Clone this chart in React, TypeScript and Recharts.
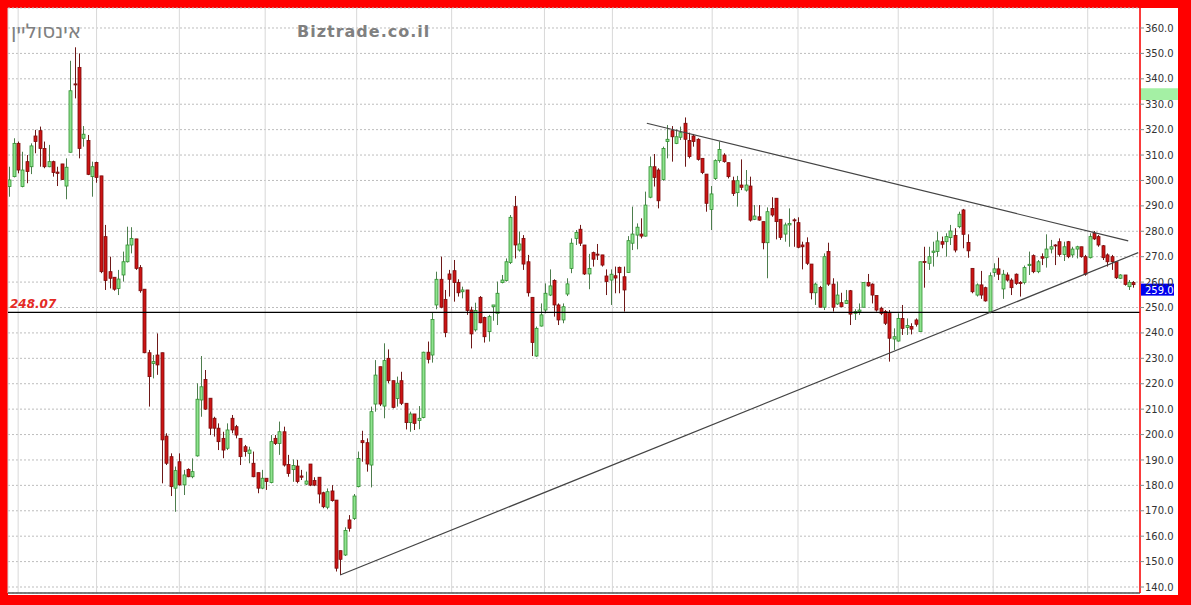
import React from 'react';
import { ComposedChart, Bar, XAxis, YAxis, CartesianGrid, ReferenceLine, ReferenceArea } from 'recharts';

const opens = [
  297.6, 301.5, 314.6, 297.6, 307.4, 305.4, 317.5, 319.6, 312.6, 305.4,
  307.4, 303.3, 306.5, 297.8, 311.1, 338.0, 344.5, 316.6, 315.7, 301.5,
  307.1, 301.8, 277.9, 264.1, 261.9, 257.5, 262.8, 268.0, 274.6, 277.0,
  265.7, 257.2, 232.2, 228.0, 231.3, 232.2, 199.4, 191.3, 178.9, 189.3,
  180.2, 186.3, 183.4, 191.6, 213.6, 221.7, 214.3, 206.4, 202.5, 198.5,
  194.6, 206.4, 203.1, 198.5, 195.2, 192.6, 188.7, 185.0, 178.9, 182.8,
  181.1, 198.5, 196.5, 201.1, 188.2, 186.2, 187.6, 183.7, 180.5, 188.4,
  181.9, 183.2, 177.1, 171.4, 177.8, 174.2, 154.3, 152.6, 166.4, 167.0,
  179.5, 197.6, 196.8, 188.0, 212.0, 226.7, 211.2, 230.0, 221.2, 214.2,
  221.2, 212.3, 204.7, 208.1, 205.5, 206.7, 232.4, 231.3, 251.0, 261.1,
  253.2, 263.2, 264.5, 259.8, 256.2, 256.9, 249.0, 241.2, 254.0, 246.1,
  240.5, 250.3, 247.7, 259.8, 260.6, 267.7, 289.7, 272.6, 277.2, 268.0,
  254.0, 230.9, 242.7, 249.0, 254.9, 260.6, 251.0, 245.1, 255.3, 265.4,
  277.2, 280.8, 274.6, 263.2, 271.6, 271.0, 270.7, 262.4, 260.8, 262.5,
  265.8, 262.1, 263.8, 275.3, 278.5, 278.9, 278.1, 293.4, 305.4, 304.1,
  300.4, 315.3, 319.6, 314.6, 317.0, 322.5, 315.7, 317.5, 316.2, 308.7,
  302.5, 288.6, 300.8, 307.8, 310.0, 307.0, 299.9, 295.2, 298.2, 296.2,
  297.8, 284.7, 285.7, 283.8, 275.5, 289.0, 293.0, 284.7, 278.9, 282.5,
  284.5, 283.4, 274.6, 275.5, 267.1, 255.8, 257.9, 250.1, 272.0, 259.2,
  251.4, 251.9, 251.6, 256.6, 247.7, 248.4, 250.1, 259.8, 259.2, 254.7,
  249.7, 248.4, 248.1, 237.6, 236.8, 245.7, 242.1, 242.5, 245.1, 240.5,
  268.1, 267.4, 271.7, 272.0, 275.9, 275.9, 277.5, 278.3, 281.8, 288.4,
  275.6, 265.4, 254.9, 258.9, 257.8, 248.1, 263.8, 265.2, 257.3, 262.8,
  260.8, 263.1, 259.8, 259.9, 266.5, 270.4, 264.1, 270.0, 269.6, 273.0,
  274.6, 275.9, 270.9, 275.9, 270.7, 273.0, 273.9, 270.0, 269.6, 279.2,
  277.9, 274.3, 270.7, 270.0, 268.0, 261.5, 262.8, 258.2, 259.8,
];

const closes = [
  300.2, 314.6, 304.1, 304.1, 303.5, 313.6, 315.3, 312.6, 305.4, 307.4,
  303.1, 302.8, 300.4, 305.2, 335.3, 337.6, 312.6, 318.2, 302.4, 305.4,
  301.2, 264.1, 260.6, 261.5, 257.2, 261.2, 268.0, 274.6, 277.2, 265.4,
  256.6, 232.2, 222.8, 228.7, 227.4, 197.9, 188.7, 179.5, 185.8, 180.2,
  184.1, 183.4, 185.4, 213.9, 218.8, 210.0, 202.5, 202.5, 197.2, 193.9,
  201.8, 201.8, 199.8, 191.3, 193.3, 193.9, 183.4, 178.9, 182.8, 181.5,
  197.2, 196.5, 201.1, 188.0, 184.7, 187.8, 181.5, 183.2, 181.7, 180.1,
  180.1, 176.6, 171.6, 177.5, 174.0, 147.4, 150.9, 162.2, 163.1, 175.8,
  190.6, 196.8, 188.4, 209.0, 223.4, 212.0, 229.1, 221.2, 210.7, 220.2,
  212.3, 204.7, 208.1, 204.4, 206.4, 232.4, 229.6, 245.3, 261.1, 250.1,
  240.1, 261.1, 259.8, 255.8, 256.9, 248.8, 239.6, 248.8, 244.0, 238.5,
  246.4, 251.0, 255.6, 260.8, 268.0, 285.5, 274.6, 275.0, 267.1, 255.8,
  236.2, 241.8, 247.1, 255.6, 258.5, 251.0, 245.1, 250.3, 259.3, 275.3,
  279.5, 275.3, 263.2, 265.4, 269.0, 270.8, 266.7, 260.2, 263.1, 261.6,
  263.7, 256.9, 276.3, 278.9, 281.6, 278.1, 290.3, 305.4, 301.2, 292.0,
  312.6, 316.2, 317.2, 317.2, 318.8, 316.2, 309.4, 315.3, 308.3, 303.1,
  291.0, 294.7, 307.8, 312.2, 307.4, 301.5, 294.9, 299.9, 297.3, 298.2,
  284.4, 286.0, 284.4, 275.5, 287.7, 286.4, 283.8, 277.6, 282.5, 283.1,
  284.3, 273.7, 273.9, 267.4, 255.8, 259.2, 250.1, 270.0, 259.2, 250.1,
  254.9, 250.3, 252.7, 247.4, 248.4, 249.0, 259.8, 258.5, 254.9, 249.0,
  247.7, 243.8, 237.9, 238.5, 245.7, 241.8, 242.9, 241.5, 243.4, 268.0,
  267.9, 270.0, 272.2, 276.2, 274.9, 277.9, 280.1, 272.6, 286.7, 278.8,
  272.3, 256.2, 258.9, 254.9, 252.6, 262.5, 265.2, 263.1, 263.1, 260.8,
  257.8, 259.5, 259.6, 265.7, 267.0, 264.1, 268.0, 269.4, 273.0, 273.9,
  274.4, 270.9, 273.9, 270.0, 273.0, 273.9, 270.0, 263.1, 277.9, 277.0,
  274.6, 269.6, 268.0, 268.0, 261.7, 262.8, 259.1, 259.9, 259.0,
];

const highs = [
  305.4, 316.6, 315.3, 311.3, 310.0, 314.6, 319.9, 321.2, 315.3, 314.0,
  307.8, 305.4, 306.5, 308.7, 347.1, 352.4, 350.0, 321.4, 317.9, 307.4,
  307.4, 301.8, 282.5, 270.0, 261.9, 264.8, 272.0, 281.8, 281.6, 277.0,
  266.7, 257.2, 233.3, 231.3, 239.8, 232.2, 200.5, 192.6, 187.4, 192.6,
  186.1, 186.7, 190.6, 220.2, 230.9, 225.4, 214.3, 207.0, 204.4, 201.1,
  204.4, 207.7, 203.8, 198.5, 195.9, 195.2, 193.3, 185.0, 186.1, 182.8,
  199.8, 199.8, 205.1, 203.1, 192.0, 190.2, 190.0, 186.1, 185.4, 188.4,
  183.2, 183.2, 177.5, 178.8, 180.1, 174.2, 154.3, 163.5, 168.3, 176.6,
  193.3, 201.5, 198.5, 211.0, 229.3, 226.7, 235.9, 233.5, 221.2, 222.8,
  224.7, 212.3, 209.0, 208.1, 211.2, 232.6, 236.6, 247.9, 264.1, 270.0,
  256.9, 264.8, 268.7, 261.1, 258.2, 256.9, 250.3, 251.9, 254.5, 246.4,
  247.1, 251.0, 260.2, 262.8, 269.3, 286.4, 293.9, 279.9, 278.5, 270.7,
  254.0, 242.5, 251.6, 259.5, 265.0, 261.1, 251.6, 251.6, 261.5, 277.2,
  280.5, 282.5, 274.6, 271.1, 272.0, 275.0, 270.7, 265.0, 265.0, 266.1,
  266.1, 266.1, 278.1, 289.7, 283.1, 285.1, 295.6, 309.4, 310.4, 304.8,
  313.3, 321.8, 321.4, 320.1, 321.2, 324.8, 318.8, 318.3, 316.6, 308.7,
  302.5, 297.8, 308.3, 315.3, 310.7, 307.0, 301.5, 301.8, 308.3, 304.1,
  301.5, 290.3, 290.3, 283.8, 289.4, 293.4, 293.0, 284.7, 283.4, 289.0,
  285.1, 285.5, 275.9, 277.6, 267.1, 259.8, 258.5, 271.3, 275.5, 261.5,
  260.2, 255.8, 256.9, 256.9, 249.3, 251.6, 259.8, 263.2, 259.5, 254.7,
  250.3, 249.0, 249.0, 241.8, 247.7, 251.0, 245.7, 243.8, 245.7, 268.0,
  273.9, 273.9, 275.9, 279.8, 277.9, 279.2, 282.5, 281.2, 287.7, 288.8,
  278.8, 265.4, 259.5, 264.4, 258.2, 263.8, 267.4, 269.6, 264.8, 263.8,
  261.5, 263.4, 260.4, 266.5, 272.0, 270.9, 268.7, 271.3, 278.8, 276.6,
  274.9, 277.2, 275.9, 276.2, 273.9, 274.3, 273.9, 270.7, 279.2, 280.1,
  278.5, 274.6, 271.3, 270.7, 268.3, 263.1, 262.8, 260.8, 260.4,
];

const lows = [
  293.6, 301.2, 302.8, 297.3, 298.9, 302.5, 310.7, 305.4, 304.8, 305.2,
  301.5, 297.8, 300.2, 292.6, 311.0, 332.3, 308.7, 313.3, 302.1, 293.6,
  299.1, 263.5, 256.9, 257.5, 256.6, 254.9, 260.2, 267.7, 271.3, 264.8,
  255.8, 232.0, 211.0, 222.1, 223.5, 180.8, 188.0, 175.8, 169.6, 179.9,
  176.2, 183.2, 182.8, 191.3, 207.0, 209.7, 199.8, 199.2, 193.9, 190.7,
  193.9, 200.5, 198.5, 188.0, 191.3, 188.7, 183.2, 176.9, 178.5, 178.2,
  180.8, 195.9, 192.0, 187.4, 183.4, 181.4, 180.8, 182.1, 180.1, 179.7,
  179.7, 172.9, 171.0, 170.6, 173.6, 146.1, 144.7, 152.2, 161.8, 166.4,
  179.2, 189.3, 185.4, 179.2, 209.0, 211.2, 206.4, 220.2, 210.3, 211.0,
  211.6, 202.0, 201.1, 201.8, 202.1, 206.4, 228.0, 228.3, 249.3, 249.7,
  238.3, 254.3, 252.3, 254.3, 253.6, 247.1, 233.9, 240.5, 243.8, 236.2,
  236.6, 244.8, 243.1, 259.5, 260.2, 267.1, 269.3, 272.0, 264.8, 254.3,
  230.9, 230.6, 242.5, 247.7, 254.5, 246.4, 243.1, 243.8, 254.5, 263.5,
  274.6, 274.2, 262.8, 257.2, 266.1, 268.7, 266.1, 254.9, 251.0, 255.6,
  255.6, 248.4, 263.7, 272.6, 272.9, 277.2, 277.9, 293.0, 297.6, 289.0,
  299.9, 308.7, 307.4, 314.3, 315.9, 305.4, 308.7, 313.3, 307.8, 302.5,
  287.7, 280.5, 300.2, 307.0, 307.0, 300.8, 293.9, 289.7, 296.2, 295.6,
  283.8, 284.4, 284.2, 272.9, 261.5, 285.7, 276.8, 276.6, 275.9, 273.9,
  273.9, 273.3, 265.0, 266.7, 253.2, 251.0, 250.1, 249.0, 258.5, 248.4,
  251.0, 250.1, 251.4, 243.1, 245.1, 247.1, 250.1, 258.2, 251.6, 248.4,
  247.0, 243.1, 228.7, 233.3, 236.6, 239.2, 239.2, 239.4, 242.5, 240.5,
  257.8, 264.8, 266.1, 270.0, 273.3, 270.0, 274.6, 271.7, 281.2, 273.3,
  269.6, 255.6, 254.3, 253.4, 252.3, 247.7, 262.1, 260.8, 253.4, 260.2,
  254.9, 258.9, 254.3, 259.1, 262.8, 263.5, 263.5, 266.7, 265.7, 271.3,
  266.7, 270.0, 268.3, 269.4, 269.6, 269.3, 269.6, 262.5, 269.3, 276.6,
  273.9, 268.7, 266.1, 264.8, 261.2, 261.2, 258.6, 256.9, 257.8,
];

const monthTicks = [2.1, 20.1, 39.1, 58.8, 79.8, 101.6, 122.9, 138.5, 161.4, 181.1, 204.1, 225.9, 247.6];
const priceTicks = [140, 150, 160, 170, 180, 190, 200, 210, 220, 230, 240, 250, 260, 270, 280, 290, 300, 310, 320, 330, 340, 350, 360];
const minorTicks = [145, 155, 165, 175, 185, 195, 205, 215, 225, 235, 245, 255, 265, 275, 285, 295, 305, 315, 325, 335, 345, 355];
const supportLine = [{ x: 76, y: 144.7 }, { x: 259.2, y: 271.6 }];
const resistanceLine = [{ x: 146.4, y: 322.5 }, { x: 256.9, y: 276.2 }];
const refLevel = 248.07;
const lastPrice = 259.0;
const greenZone = [331.7, 336.3];
const xDomain = [-0.23, 259.6];
const yDomain = [137.64, 367.87];
const title = 'אינסוליין';
const brand = 'Biztrade.co.il';

const data = opens.map((o, i) => ({
  i,
  open: o,
  close: closes[i],
  high: Math.max(highs[i], o, closes[i]),
  low: Math.min(lows[i], o, closes[i]),
}));

const Candle = (props: any) => {
  const { x, y, width, height, payload } = props;
  if (!payload || x == null) return null;
  const { open, close, high, low } = payload;
  const top = Math.min(y, y + height);
  const h = Math.abs(height);
  const ppu = high > low ? h / (high - low) : 0;
  const yO = top + (high - open) * ppu;
  const yC = top + (high - close) * ppu;
  const up = close >= open;
  const bTop = Math.min(yO, yC);
  const bH = Math.max(1, Math.abs(yO - yC));
  const cx = Math.round(x + width / 2) + 0.5;
  const fill = up ? '#8fe38f' : '#cc1414';
  const stroke = up ? '#2f8f2f' : '#7a0c0c';
  const wick = up ? '#4d7d4d' : '#6e1818';
  return (
    <g>
      <line x1={cx} x2={cx} y1={top} y2={top + h} stroke={wick} strokeWidth={1} />
      <rect x={cx - 1.5} y={bTop} width={3} height={bH} fill={fill} stroke={stroke} strokeWidth={0.8} />
    </g>
  );
};

export default function App() {
  return (
    <div style={{ position: 'absolute', left: 0, top: 0, width: 1191, height: 605, background: '#ff0000', overflow: 'hidden' }}>
      <div style={{ position: 'absolute', left: 8, top: 8, width: 1170, height: 587, background: '#ffffff' }} />
      <div style={{ position: 'absolute', left: 0, top: 0 }}>
        <ComposedChart width={1191} height={605} data={data} margin={{ top: 8, left: 8, right: 13, bottom: 10 }}>
          <CartesianGrid yAxisId="p" vertical={false} stroke="#bdbdbd" strokeDasharray="2 2" />
          <CartesianGrid yAxisId="p" horizontal={false} stroke="#d8d8d8" />
          <XAxis
            dataKey="i"
            type="number"
            domain={xDomain}
            allowDataOverflow
            ticks={monthTicks}
            tickFormatter={() => ''}
            tickLine={false}
            height={2}
            axisLine={{ stroke: '#555', strokeWidth: 1.5 }}
          />
          <YAxis
            yAxisId="m"
            orientation="right"
            type="number"
            domain={yDomain}
            allowDataOverflow
            ticks={minorTicks}
            tickFormatter={() => ''}
            tickSize={3}
            tickLine={{ stroke: '#ff4040' }}
            axisLine={false}
            width={0}
          />
          <YAxis
            yAxisId="p"
            orientation="right"
            type="number"
            domain={yDomain}
            allowDataOverflow
            ticks={priceTicks}
            tickFormatter={(v: number) => v.toFixed(1)}
            tickSize={4}
            tickMargin={1}
            tickLine={{ stroke: '#888' }}
            axisLine={{ stroke: '#ff0000', strokeWidth: 1.5 }}
            tick={{ fill: '#333', fontSize: 10, fontFamily: 'DejaVu Sans' }}
            width={38}
          />
          <ReferenceArea
            yAxisId="p"
            x1={xDomain[1]}
            x2={xDomain[1] + 8.7}
            y1={greenZone[0]}
            y2={greenZone[1]}
            fill="#a4f0a4"
            fillOpacity={1}
            stroke="none"
            ifOverflow="visible"
          />
          <ReferenceLine
            yAxisId="p"
            y={refLevel}
            stroke="#000"
            strokeWidth={1.2}
            label={(p: any) => (
              <text
                x={p.viewBox.x + 2}
                y={p.viewBox.y - 4}
                fill="#e42a24"
                fontSize={12}
                fontStyle="italic"
                fontWeight="bold"
                fontFamily="DejaVu Sans"
              >
                {refLevel.toFixed(2)}
              </text>
            )}
          />
          <Bar
            yAxisId="p"
            dataKey={(d: any) => [d.low, d.high]}
            barSize={3}
            isAnimationActive={false}
            shape={(p: any) => <Candle {...p} />}
          />
          <ReferenceLine yAxisId="p" segment={supportLine} stroke="#444" strokeWidth={1.2} ifOverflow="visible" />
          <ReferenceLine yAxisId="p" segment={resistanceLine} stroke="#444" strokeWidth={1.2} ifOverflow="visible" />
          <ReferenceLine
            yAxisId="p"
            y={lastPrice}
            stroke="none"
            ifOverflow="visible"
            label={(p: any) => (
              <g>
                <rect x={p.viewBox.x + p.viewBox.width + 1} y={p.viewBox.y - 1} width={33} height={12} fill="#0000ee" />
                <text
                  x={p.viewBox.x + p.viewBox.width + 5}
                  y={p.viewBox.y + 9}
                  fill="#fff"
                  fontSize={10}
                  fontFamily="DejaVu Sans"
                >
                  {lastPrice.toFixed(1)}
                </text>
              </g>
            )}
          />
        </ComposedChart>
      </div>
      <svg width={1191} height={605} style={{ position: 'absolute', left: 0, top: 0, pointerEvents: 'none' }}>
        <text x={11} y={38} fill="#808080" fontSize={20} fontFamily="DejaVu Sans">{title}</text>
        <text x={297} y={37} fill="#808080" fontSize={16} fontWeight="bold" letterSpacing={1} fontFamily="DejaVu Sans">{brand}</text>
      </svg>
    </div>
  );
}
